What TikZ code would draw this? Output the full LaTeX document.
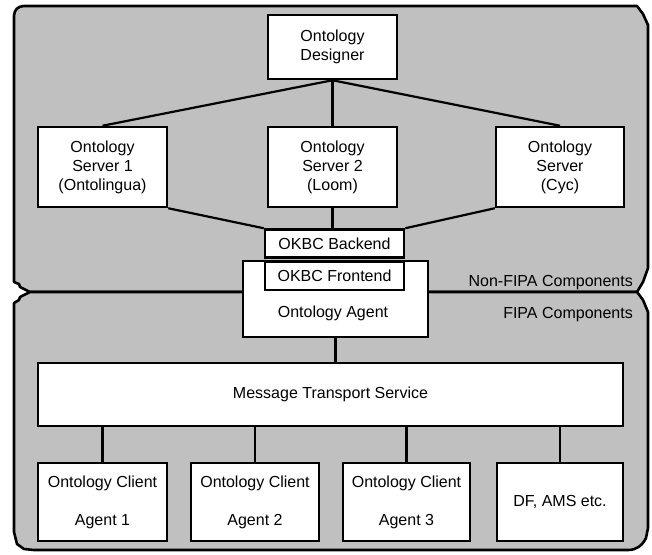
\documentclass[tikz,border=0pt]{standalone}
\usepackage{fontspec}
\setmainfont{Liberation Sans}
\newcommand\diaglabelfont{\fontsize{16}{19}\selectfont}
\definecolor{regiongray}{RGB}{192,192,192}
\begin{document}
\begin{tikzpicture}[x=1pt,y=-1pt,
  box/.style={draw=black, fill=white, line width=2.5pt, inner sep=0pt, align=center, font=\diaglabelfont},
  conn/.style={line width=2.2pt},
  region/.style={draw=black, fill=regiongray, line width=2.6pt, line join=round},
  lbl/.style={font=\diaglabelfont, inner sep=0pt}]
\useasboundingbox (0,0) rectangle (652,554);
% regions
\path[region] (14,16) .. controls (14,10) and (18,6) .. (24,6) -- (637,6) -- (643,14) -- (648,25)
  -- (648,268) -- (643,282) -- (637,292) -- (30,292) -- (20,287) -- (19,284) -- (14,282) -- cycle;
\path[region] (30,292) -- (637,292) -- (643,300) -- (648,312) -- (648,528) -- (646,538)
  .. controls (642,546) and (636,550) .. (628,550) -- (34,550) -- (24,549) -- (17,544) -- (14,532)
  -- (14,303) -- (19,300) -- (20,297) -- cycle;
\node[lbl, anchor=east] (nonfipa) at (633,283) {Non-FIPA Components};
\node[lbl, anchor=east] (fipa) at (633,315) {FIPA Components};
% boxes
\node[box, minimum width=129pt, minimum height=64pt] (designer) at (332.5,47) {Ontology\\Designer};
\node[box, minimum width=129pt, minimum height=80pt] (s1) at (102.5,167) {Ontology\\Server 1\\(Ontolingua)};
\node[box, minimum width=129pt, minimum height=80pt] (s2) at (332.5,167) {Ontology\\Server 2\\(Loom)};
\node[box, minimum width=128pt, minimum height=80pt] (s3) at (560,167) {Ontology\\Server\\(Cyc)};
\node[box, minimum width=139pt, minimum height=28pt] (backend) at (334.5,243.5) {OKBC Backend};
\node[box, minimum width=185pt, minimum height=76pt] (agent) at (335.5,299) {};
\node[lbl] (agentlbl) at (333,313) {Ontology Agent};
\node[box, minimum width=139pt, minimum height=28pt] (frontend) at (334.5,276) {OKBC Frontend};
\node[box, minimum width=585pt, minimum height=63pt] (mts) at (330.5,394.5) {Message Transport Service};
\node[box, minimum width=129pt, minimum height=78pt] (c1) at (102.5,502) {Ontology Client\\[19pt]Agent 1};
\node[box, minimum width=128pt, minimum height=78pt] (c2) at (255,502) {Ontology Client\\[19pt]Agent 2};
\node[box, minimum width=127pt, minimum height=78pt] (c3) at (406.5,502) {Ontology Client\\[19pt]Agent 3};
\node[box, minimum width=126pt, minimum height=78pt] (c4) at (560,502) {DF, AMS etc.};
% connectors
\draw[conn] (designer.south) -- (s1.north);
\draw[conn] (designer.south) -- (s2.north);
\draw[conn] (designer.south) -- (s3.north);
\draw[conn] (s1.south east) -- (backend.north west);
\draw[conn] (s2.south) -- (s2.south |- backend.north);
\draw[conn] (s3.south west) -- (backend.north east);
\draw[conn] (agent.south) -- (agent.south |- mts.north);
\draw[conn] (c1.north |- mts.south) -- (c1.north);
\draw[conn] (c2.north |- mts.south) -- (c2.north);
\draw[conn] (c3.north |- mts.south) -- (c3.north);
\draw[conn] (c4.north |- mts.south) -- (c4.north);
\end{tikzpicture}
\end{document}
